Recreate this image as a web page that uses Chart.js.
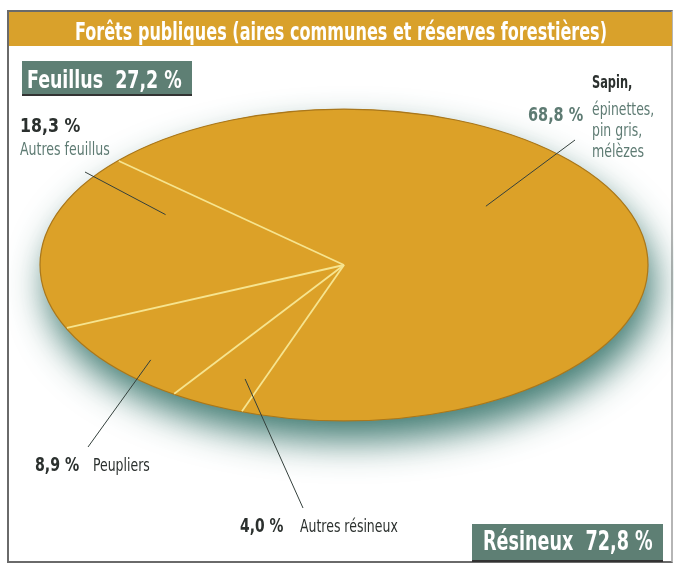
<!DOCTYPE html>
<html lang="fr">
<head>
<meta charset="utf-8">
<script src="https://cdn.jsdelivr.net/npm/chart.js@4.4.0/dist/chart.umd.min.js"></script>
<style>
  html, body { margin: 0; padding: 0; width: 674px; height: 566px; overflow: hidden; background: #fff; }
  body { position: relative; font-family: "Liberation Sans Narrow", "DejaVu Sans Condensed", "Roboto", sans-serif; }
  #frame { position: absolute; left: 7px; top: 10px; width: 666px; height: 553px; box-sizing: border-box;
           border: 2px solid #6a6a6a; border-right-color: #b5b5b5; }
  #title { position: absolute; left: 9px; top: 12px; width: 663px; height: 34px; background: #d9a12b; }
  #chartWrap { position: absolute; left: 7px; top: -45px; width: 674px; height: 620px; }
  .txt { position: absolute; white-space: pre; line-height: 1; transform-origin: 0 0; }
  .box { position: absolute; background: #5e7f74; box-shadow: 0 2px 0 #333; }
</style>
</head>
<body>
<div id="frame"></div>
<div id="title"></div>
<div class="box" style="left:22px; top:61px; width:170px; height:33px;"></div>
<div class="box" style="left:472px; top:524px; width:191px; height:36px;"></div>
<div id="chartWrap"><canvas id="pie" width="674" height="620"></canvas></div>
<div id="labels"></div>

<script>
const titleText = 'Forêts publiques (aires communes et réserves forestières)';
const groupNames = ['Feuillus', 'Résineux'];
const groupValues = [27.2, 72.8];
const sliceNames = ['Sapin,', 'Autres résineux', 'Peupliers', 'Autres feuillus'];
const sliceExtra = [['épinettes,', 'pin gris,', 'mélèzes'], [], [], []];
const sliceValues = [68.8, 4.0, 8.9, 18.3];

const pieColor = '#dca128';
const squash = 0.513;
const dark = '#2b302e';
const teal = '#5e7b73';

// where each leader line starts (page coords) and where it lands inside its slice
const leaders = [
  { out: [575, 140], t: 0.4, r: 0.6 },
  { out: [303, 508], t: 0.3, r: 0.8 },
  { out: [88, 447], t: 0.38, r: 0.88 },
  { out: [85, 172], t: 0.8, r: 0.67 }
];
const wrapLeft = 7, wrapTop = -45;

const fmt = v => v.toFixed(1).replace('.', ',') + ' %';

// text: [content, left, baseline, size, weight, color, targetWidth, align]
const texts = [
  [titleText, 341, 40, 25, 'bold', '#fff', 532, 'center'],
  [groupNames[0] + '  ' + fmt(groupValues[0]), 27, 88, 25, 'bold', '#fff', 155],
  [groupNames[1] + '  ' + fmt(groupValues[1]), 483, 550, 26, 'bold', '#fff', 170],
  [fmt(sliceValues[3]), 20, 132, 19, 'bold', dark, 60],
  [sliceNames[3], 20, 155, 18, 'normal', teal, 90],
  [sliceNames[0], 592, 88, 18, 'bold', dark, 40],
  [fmt(sliceValues[0]), 528, 121, 19, 'bold', teal, 55],
  [sliceExtra[0][0], 592, 115, 18, 'normal', teal, 62],
  [sliceExtra[0][1], 592, 136, 18, 'normal', teal, 50],
  [sliceExtra[0][2], 592, 157, 18, 'normal', teal, 52],
  [fmt(sliceValues[2]), 35, 471, 19, 'bold', dark, 44],
  [sliceNames[2], 93, 471, 18, 'normal', dark, 57],
  [fmt(sliceValues[1]), 240, 532, 19, 'bold', dark, 43],
  [sliceNames[1], 300, 532, 18, 'normal', dark, 98]
];

const holder = document.getElementById('labels');
texts.forEach(([s, x, base, size, weight, color, w, align]) => {
  const el = document.createElement('div');
  el.className = 'txt';
  el.textContent = s;
  el.style.fontSize = size + 'px';
  el.style.fontWeight = weight;
  el.style.color = color;
  el.style.top = (base - size * 0.85) + 'px';
  holder.appendChild(el);
  const k = w / el.offsetWidth;
  el.style.left = (align === 'center' ? x - w / 2 : x) + 'px';
  el.style.transform = `scaleX(${k})`;
});

const ellipsePlugin = {
  id: 'ellipse',
  beforeDatasetsDraw(chart) {
    const arc = chart.getDatasetMeta(0).data[0];
    const ctx = chart.ctx;
    // soft teal shadow under the whole disc
    ctx.save();
    ctx.save();
    ctx.translate(arc.x, arc.y);
    ctx.scale(1, squash);
    ctx.beginPath();
    ctx.arc(0, 0, arc.outerRadius, 0, Math.PI * 2);
    ctx.restore();
    ctx.shadowColor = 'rgba(45, 110, 100, 0.9)';
    ctx.shadowBlur = 36;
    ctx.shadowOffsetX = 6;
    ctx.shadowOffsetY = 20;
    ctx.fillStyle = pieColor;
    ctx.fill();
    ctx.restore();
    // squash the slices into an ellipse
    ctx.save();
    ctx.translate(arc.x, arc.y);
    ctx.scale(1, squash);
    ctx.translate(-arc.x, -arc.y);
  },
  afterDatasetsDraw(chart) {
    const ctx = chart.ctx;
    ctx.restore();
    const arcs = chart.getDatasetMeta(0).data;
    const cx = arcs[0].x, cy = arcs[0].y, R = arcs[0].outerRadius;
    const pt = (a, r) => [cx + r * Math.cos(a), cy + r * squash * Math.sin(a)];

    // rim
    ctx.save();
    ctx.save();
    ctx.translate(cx, cy);
    ctx.scale(1, squash);
    ctx.beginPath();
    ctx.arc(0, 0, R, 0, Math.PI * 2);
    ctx.restore();
    ctx.strokeStyle = '#a9771c';
    ctx.lineWidth = 1.2;
    ctx.stroke();

    // slice separators
    ctx.strokeStyle = '#f6e48f';
    ctx.lineWidth = 1.8;
    arcs.forEach(a => {
      const p = pt(a.startAngle, R - 1);
      ctx.beginPath();
      ctx.moveTo(cx, cy);
      ctx.lineTo(p[0], p[1]);
      ctx.stroke();
    });

    // leader lines
    ctx.strokeStyle = '#34403c';
    ctx.lineWidth = 1;
    arcs.forEach((a, i) => {
      const L = leaders[i];
      const ang = a.startAngle + (a.endAngle - a.startAngle) * L.t;
      const p = pt(ang, R * L.r);
      ctx.beginPath();
      ctx.moveTo(L.out[0] - wrapLeft, L.out[1] - wrapTop);
      ctx.lineTo(p[0], p[1]);
      ctx.stroke();
    });
    ctx.restore();
  }
};

new Chart(document.getElementById('pie'), {
  type: 'pie',
  data: {
    labels: sliceNames,
    datasets: [{
      data: sliceValues,
      backgroundColor: pieColor,
      borderWidth: 0
    }]
  },
  options: {
    responsive: false,
    animation: false,
    events: [],
    rotation: 312,
    layout: { padding: 6 },
    plugins: {
      legend: { display: false },
      tooltip: { enabled: false },
      title: { display: false }
    }
  },
  plugins: [ellipsePlugin]
});
</script>
</body>
</html>
